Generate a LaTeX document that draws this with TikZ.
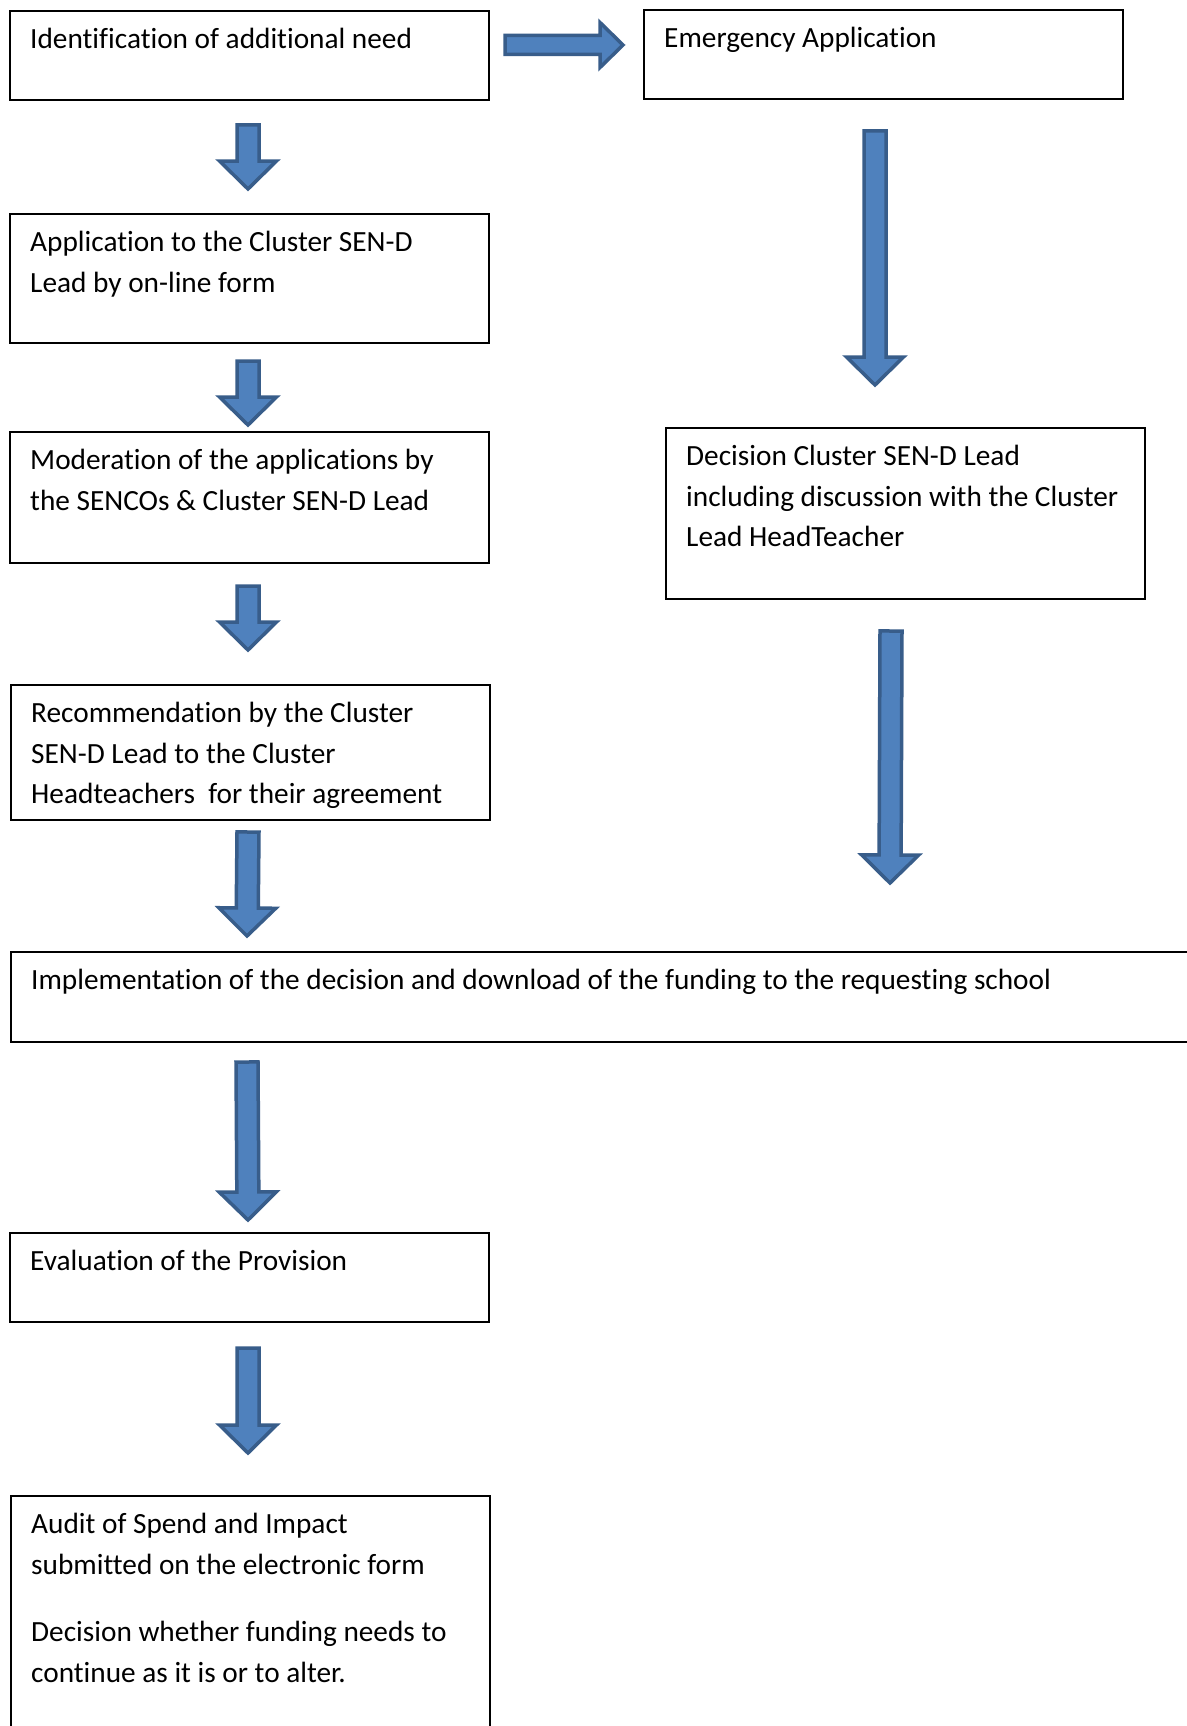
\documentclass[tikz,border=0pt]{standalone}
\usepackage{fontspec}
\setmainfont[Ligatures={NoCommon,NoRequired,NoContextual},RawFeature={-liga;-clig}]{Carlito}
\usetikzlibrary{calc}
\definecolor{arrowfill}{HTML}{4F81BD}
\definecolor{arrowline}{HTML}{385D8A}
\tikzset{
  flowbox/.style={draw=black, line width=2pt, inner sep=0pt, anchor=north west},
  flowtext/.style={anchor=base west, inner sep=0pt, text=black,
    font=\fontsize{29.3pt}{40.7pt}\selectfont},
  blockarrow/.style n args={3}{draw=arrowline, fill=arrowfill, line width=3.5pt, line join=miter,
    to path={
      ($(\tikztotarget)!#3pt!(\tikztostart)$) coordinate (blkhb)
      ($(\tikztostart)!#1pt!90:(\tikztotarget)$)
      -- ($(blkhb)!#1pt!-90:(\tikztostart)$)
      -- ($(blkhb)!#2pt!-90:(\tikztostart)$)
      -- (\tikztotarget)
      -- ($(blkhb)!#2pt!90:(\tikztostart)$)
      -- ($(blkhb)!#1pt!90:(\tikztostart)$)
      -- ($(\tikztostart)!#1pt!-90:(\tikztotarget)$)
      -- cycle}},
  downarrow/.style={blockarrow={11}{28.5}{28}},
  rightarrow/.style={blockarrow={9.5}{22.5}{23}}
}
\newcommand{\boxlines}[1]{\parbox[t]{1150pt}{\raggedright #1}}
\begin{document}
\begin{tikzpicture}[x=1pt,y=-1pt]
\useasboundingbox (0,0) rectangle (1186,1726);
\fill[white] (0,0) rectangle (1186,1726);

% boxes
\node[flowbox, minimum width=479pt, minimum height=89pt] (A) at (9,10) {};
\node[flowbox, minimum width=479pt, minimum height=89pt] (B) at (643,9) {};
\node[flowbox, minimum width=479pt, minimum height=129pt] (C) at (9,213) {};
\node[flowbox, minimum width=479pt, minimum height=131pt] (D) at (9,431) {};
\node[flowbox, minimum width=479pt, minimum height=135pt] (E) at (10,684) {};
\node[flowbox, minimum width=1200pt, minimum height=90pt] (F) at (10,951) {};
\node[flowbox, minimum width=479pt, minimum height=89pt] (G) at (9,1232) {};
\node[flowbox, minimum width=479pt, minimum height=260pt] (H) at (10,1495) {};
\node[flowbox, minimum width=479pt, minimum height=171pt] (I) at (665,427) {};

% texts
\node[flowtext] (At) at ($(A.north west)+(21,38.5)$) {\boxlines{Identification of additional need}};
\node[flowtext] (Bt) at ($(B.north west)+(21,38.5)$) {\boxlines{Emergency Application}};
\node[flowtext] (Ct) at ($(C.north west)+(21,38.5)$) {\boxlines{Application to the Cluster SEN-D\\Lead by on-line form}};
\node[flowtext] (Dt) at ($(D.north west)+(21,38.5)$) {\boxlines{Moderation of the applications by\\the SENCOs \& Cluster SEN-D Lead}};
\node[flowtext] (Et) at ($(E.north west)+(21,38.5)$) {\boxlines{Recommendation by the Cluster\\SEN-D Lead to the Cluster\\Headteachers~ for their agreement}};
\node[flowtext] (Ft) at ($(F.north west)+(21,38.5)$) {\boxlines{Implementation of the decision and download of the funding to the requesting school}};
\node[flowtext] (Gt) at ($(G.north west)+(21,38.5)$) {\boxlines{Evaluation of the Provision}};
\node[flowtext] (Ht) at ($(H.north west)+(21,38.5)$) {\boxlines{Audit of Spend and Impact\\submitted on the electronic form\\[27pt]Decision whether funding needs to\\continue as it is or to alter.}};
\node[flowtext] (It) at ($(I.north west)+(21,38.5)$) {\boxlines{Decision Cluster SEN-D Lead\\including discussion with the Cluster\\Lead HeadTeacher}};

% arrow end points
\coordinate (r1s) at ($(A.north east)+(15,35)$);
\coordinate (r1e) at ($(B.north west)+(-20,36)$);
\coordinate (d1s) at ($(A.south)+(-1.5,24)$);
\coordinate (d1e) at ($(C.north)+(-1.5,-24)$);
\coordinate (d2s) at ($(C.south)+(-1.5,17)$);
\coordinate (d2e) at ($(D.north)+(-1.5,-6)$);
\coordinate (d3s) at ($(D.south)+(-1.5,22)$);
\coordinate (d3e) at ($(E.north)+(-2.5,-34)$);
\coordinate (d4s) at ($(E.south)+(-2.5,11)$);
\coordinate (d4e) at ($(F.north west)+(237,-15)$);
\coordinate (d5s) at ($(F.south west)+(237,19)$);
\coordinate (d5e) at ($(G.north)+(-1.5,-12)$);
\coordinate (d6s) at ($(G.south)+(-1.5,25)$);
\coordinate (d6e) at ($(H.north)+(-2.5,-42)$);
\coordinate (e1s) at ($(B.south)+(-8.5,31)$);
\coordinate (e1e) at ($(I.north)+(-30.5,-42)$);
\coordinate (e2s) at ($(I.south)+(-14.5,31)$);
\coordinate (e2e) at ($(F.north west)+(880,-68)$);

% block arrows
\draw[rightarrow] (r1s) to (r1e);
\draw[downarrow] (d1s) to (d1e);
\draw[downarrow] (d2s) to (d2e);
\draw[downarrow] (d3s) to (d3e);
\draw[downarrow] (d4s) to (d4e);
\draw[downarrow] (d5s) to (d5e);
\draw[downarrow] (d6s) to (d6e);
\draw[downarrow] (e1s) to (e1e);
\draw[downarrow] (e2s) to (e2e);
\end{tikzpicture}
\end{document}
